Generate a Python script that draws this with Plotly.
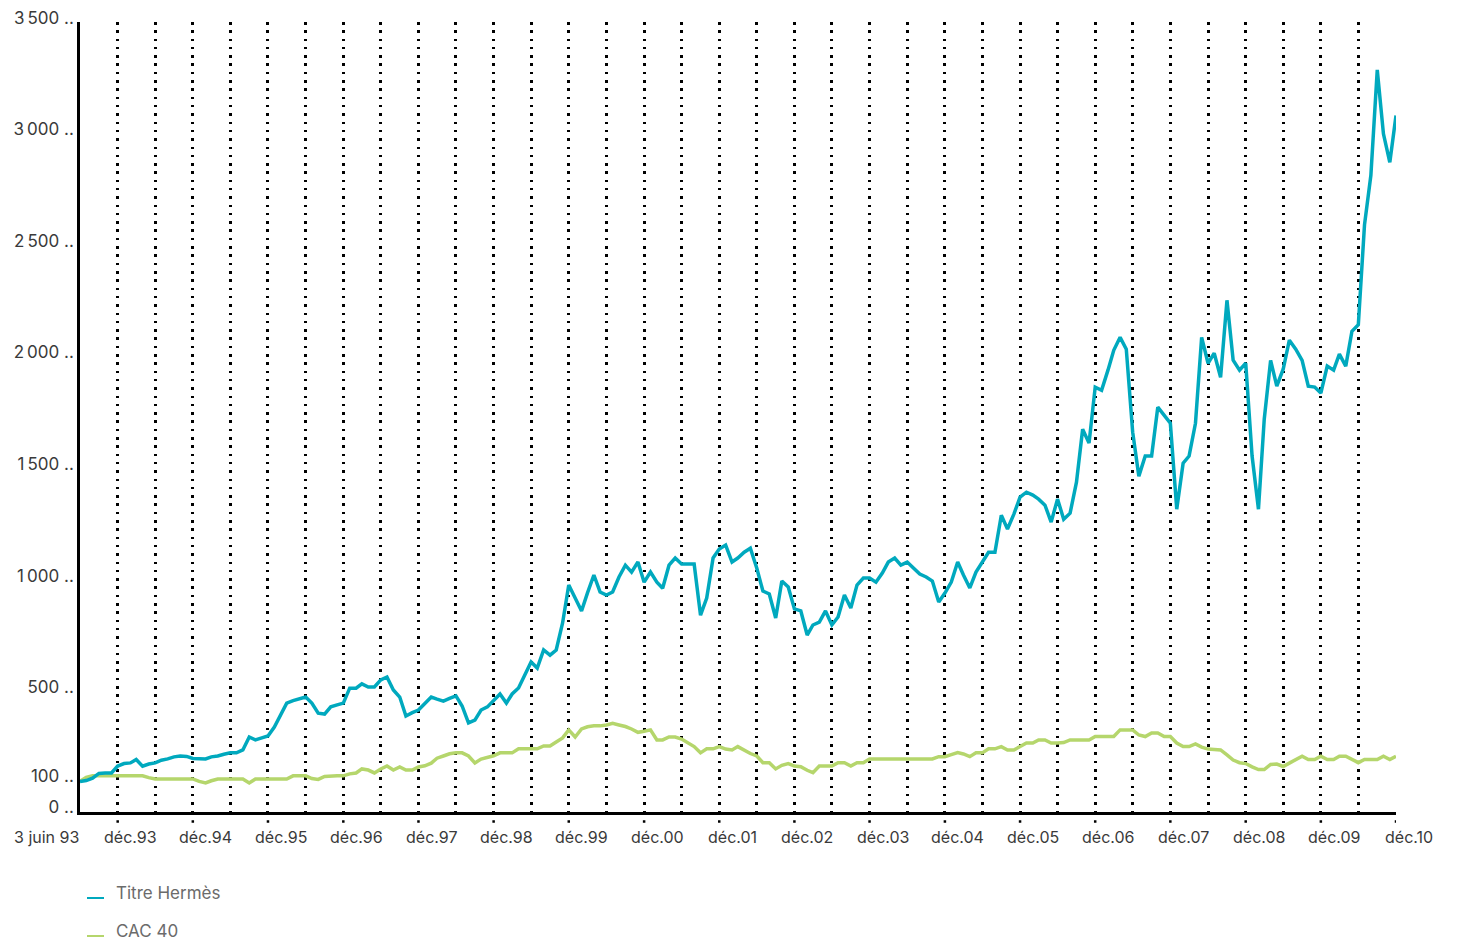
import pandas as pd
import plotly.graph_objects as go

# Monthly values, index 100 = 3 June 1993
start_date = "1993-06-01"
hermes = [
    100, 104, 115, 136, 138, 138, 169, 180, 183, 198,
    168, 178, 183, 195, 201, 210, 214, 212, 203, 201,
    201, 210, 214, 222, 228, 228, 241, 299, 286, 295,
    304, 344, 398, 451, 462, 469, 478, 451, 406, 402,
    434, 443, 451, 518, 518, 537, 523, 523, 555, 568,
    510, 478, 393, 408, 420, 449, 478, 469, 460, 472,
    483, 438, 362, 375, 420, 434, 463, 492, 451, 492,
    519, 577, 635, 608, 689, 666, 689, 810, 980, 922,
    864, 945, 1025, 949, 935, 949, 1016, 1069, 1038, 1083,
    993, 1038, 993, 966, 1069, 1101, 1074, 1074, 1074, 845,
    922, 1101, 1141, 1159, 1083, 1101, 1127, 1145, 1056, 953,
    940, 832, 998, 971, 873, 864, 756, 801, 814, 864,
    801, 837, 935, 877, 980, 1011, 1011, 993, 1034, 1083,
    1101, 1069, 1083, 1056, 1029, 1016, 998, 904, 944, 993,
    1083, 1025, 967, 1038, 1083, 1127, 1127, 1293, 1231, 1298,
    1374, 1396, 1383, 1365, 1338, 1262, 1365, 1275, 1302, 1441,
    1678, 1616, 1867, 1853, 1943, 2032, 2090, 2037, 1665, 1468,
    1558, 1558, 1777, 1741, 1705, 1320, 1526, 1558, 1705, 2090,
    1974, 2019, 1911, 2256, 1988, 1943, 1974, 1558, 1320, 1723,
    1987, 1871, 1947, 2077, 2037, 1987, 1871, 1867, 1840, 1961,
    1943, 2015, 1961, 2117, 2146, 2594, 2816, 3288, 3002, 2874,
    3084,
]
cac40 = [
    100, 118, 125, 125, 125, 125, 125, 125, 125, 125,
    125, 117, 111, 111, 111, 111, 111, 111, 111, 100,
    93, 103, 111, 111, 111, 111, 111, 93, 111, 111,
    111, 111, 111, 111, 125, 125, 125, 113, 109, 122,
    125, 125, 125, 134, 138, 156, 151, 138, 156, 169,
    151, 165, 151, 151, 165, 170, 182, 204, 214, 224,
    228, 228, 214, 183, 200, 208, 215, 228, 228, 228,
    246, 246, 246, 246, 259, 259, 277, 295, 331, 299,
    335, 345, 349, 349, 353, 360, 353, 346, 335, 320,
    325, 331, 286, 286, 299, 299, 290, 274, 256, 228,
    246, 246, 256, 245, 241, 256, 240, 225, 214, 184,
    184, 156, 172, 180, 169, 166, 150, 139, 169, 169,
    169, 184, 184, 169, 184, 184, 201, 201, 201, 201,
    201, 201, 201, 201, 201, 201, 201, 211, 211, 220,
    229, 223, 211, 228, 228, 246, 246, 256, 241, 241,
    257, 272, 272, 286, 286, 272, 272, 274, 286, 286,
    286, 286, 301, 301, 301, 301, 331, 331, 331, 308,
    301, 317, 317, 301, 301, 272, 256, 256, 268, 254,
    245, 243, 241, 219, 196, 184, 180, 165, 153, 153,
    176, 178, 167, 182, 198, 213, 198, 198, 213, 198,
    198, 213, 213, 200, 184, 198, 198, 198, 213, 198,
    213,
]
dates = pd.date_range(start_date, periods=len(hermes), freq="MS")

y_ticks = [-37, 100, 500, 1000, 1500, 2000, 2500, 3000, 3500]
y_labels = ["0", "100", "500", "1\u202f000", "1\u202f500", "2\u202f000",
            "2\u202f500", "3\u202f000", "3\u202f500"]
dec_years = list(range(1993, 2011))
dec_labels = [f"déc.{y % 100:02d}" for y in dec_years]
first_label = "3 juin 93"
series_names = ["Titre Hermès", "CAC 40"]
colors = ["#00A9BE", "#B5D66C"]

FONT = "Inter, Roboto, sans-serif"
TXT = "#3a3a3a"

# plot area size in pixels
PW, PH = 1316, 790

fig = go.Figure()
fig.add_trace(go.Scatter(x=dates, y=cac40, mode="lines", name=series_names[1],
                         line=dict(color=colors[1], width=3.5), showlegend=False))
fig.add_trace(go.Scatter(x=dates, y=hermes, mode="lines", name=series_names[0],
                         line=dict(color=colors[0], width=3.5), showlegend=False))

annotations = []
annotations.append(dict(x=start_date, y=-25 / PH, xref="x", yref="paper",
                        text=first_label, showarrow=False, xshift=-34,
                        yanchor="middle",
                        font=dict(size=16, color=TXT, family=FONT)))
shapes = []
for yr, lab in zip(dec_years, dec_labels):
    d = f"{yr}-12-01"
    annotations.append(dict(x=d, y=-25 / PH, xref="x", yref="paper", text=lab,
                            showarrow=False, xshift=13, yanchor="middle",
                            font=dict(size=16, color=TXT, family=FONT)))
    shapes.append(dict(type="line", xref="x", yref="paper", x0=d, x1=d,
                       y0=0, y1=-12 / PH,
                       line=dict(color="black", width=2.5, dash="2.5px,5.8px")))

# custom legend
for i, (nm, c) in enumerate(zip(series_names, colors)):
    below = 86 + 38 * i  # pixels below the x axis
    yp = -below / PH
    shapes.append(dict(type="line", xref="paper", yref="paper",
                       x0=7 / PW, x1=24 / PW, y0=yp, y1=yp,
                       line=dict(color=c, width=2)))
    annotations.append(dict(x=34 / PW, y=yp, xref="paper", yref="paper",
                            text=nm, showarrow=False, xanchor="left", yanchor="middle",
                            yshift=5, font=dict(size=17, color="#6b6b6b", family=FONT)))

fig.update_layout(
    width=1441, height=935,
    margin=dict(l=72, r=53, t=14, b=131, autoexpand=False),
    plot_bgcolor="white", paper_bgcolor="white",
    font=dict(family=FONT, color=TXT),
    annotations=annotations, shapes=shapes,
    xaxis=dict(type="date", range=[start_date, "2010-12-01"],
               tick0=start_date, dtick="M6",
               showgrid=True, gridcolor="black", gridwidth=2.5,
               griddash="2.5px,5.8px",
               showticklabels=False, ticks="", automargin=False,
               showline=True, linecolor="black", linewidth=3,
               zeroline=False),
    yaxis=dict(range=[-37, 3503], tickvals=y_ticks,
               ticktext=[t + " .." for t in y_labels],
               showgrid=False, zeroline=False, ticks="", automargin=False,
               showline=True, linecolor="black", linewidth=2.5,
               ticklabelshift=-5, ticklabelstandoff=0,
               ticklabeloverflow="allow",
               tickfont=dict(size=17, color=TXT, family=FONT)),
)

fig.write_html("out.html")
